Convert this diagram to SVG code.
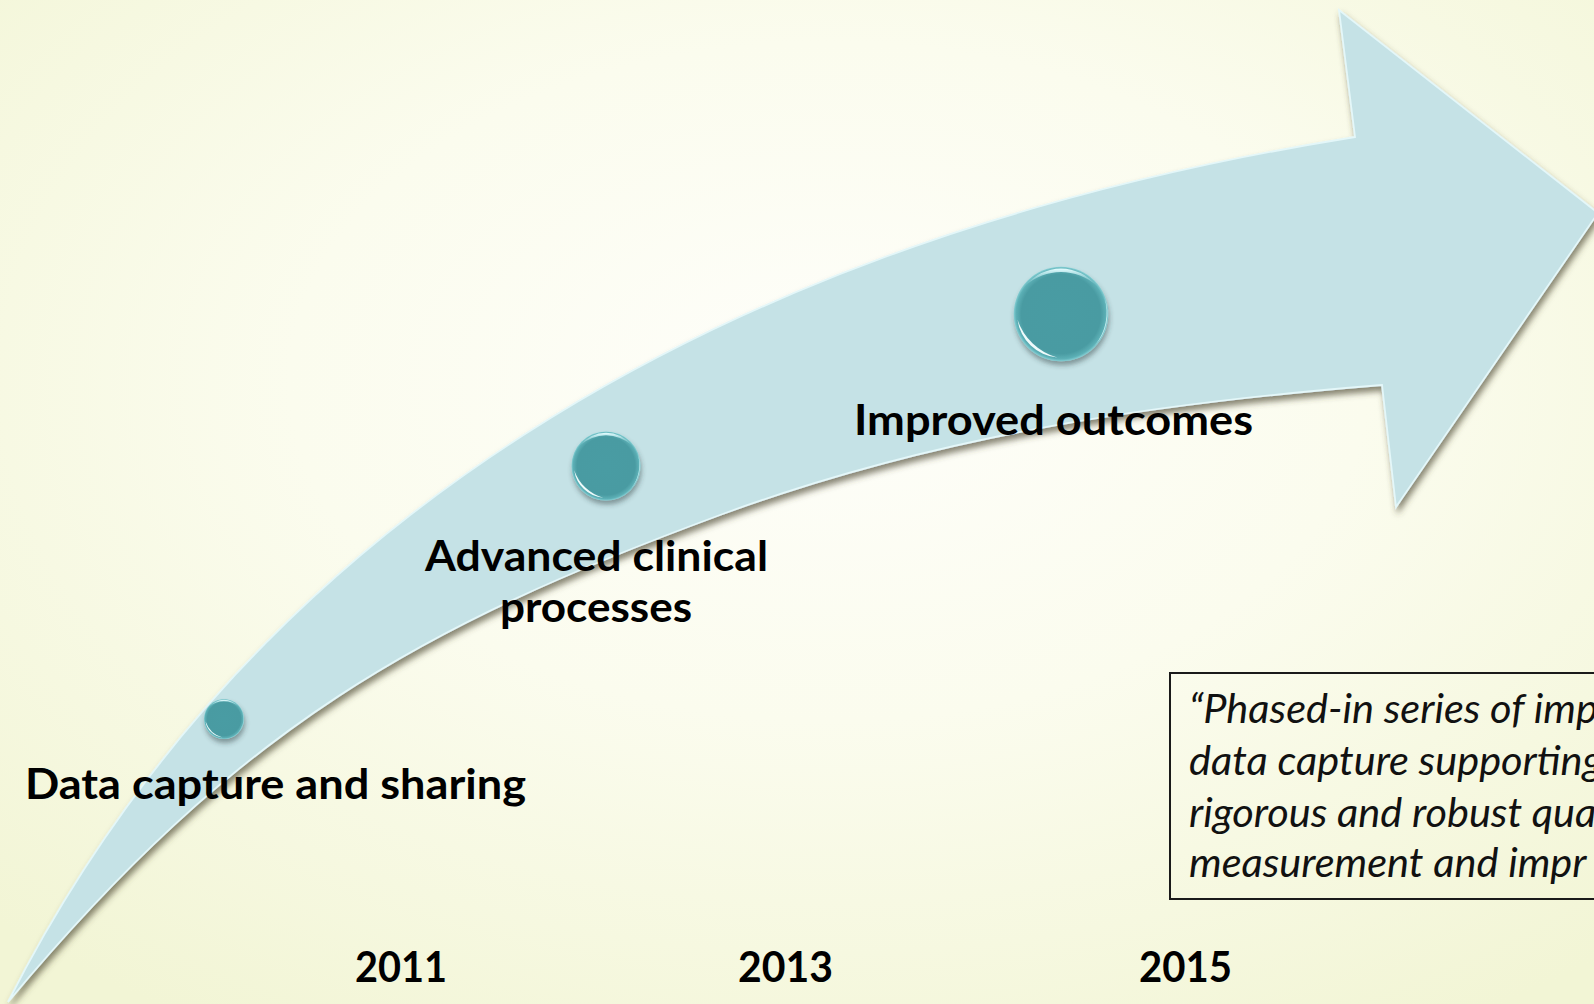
<svg xmlns="http://www.w3.org/2000/svg" width="1594" height="1004" viewBox="0 0 1594 1004">
  <defs>
    <radialGradient id="bg" cx="52%" cy="38%" r="75%">
      <stop offset="0" stop-color="#FEFEFA"/>
      <stop offset="0.45" stop-color="#FBFCEE"/>
      <stop offset="1" stop-color="#F2F5D5"/>
    </radialGradient>
    <filter id="arrowShadow" x="-5%" y="-5%" width="110%" height="115%">
      <feGaussianBlur in="SourceAlpha" stdDeviation="3" result="b"/>
      <feOffset dx="2" dy="5" result="o"/>
      <feFlood flood-color="#4a4630" flood-opacity="0.65"/>
      <feComposite in2="o" operator="in" result="s"/>
      <feMerge><feMergeNode in="s"/><feMergeNode in="SourceGraphic"/></feMerge>
    </filter>
    <filter id="beadShadow" x="-30%" y="-30%" width="160%" height="170%">
      <feGaussianBlur in="SourceAlpha" stdDeviation="2.5" result="b"/>
      <feOffset dx="1" dy="4" result="o"/>
      <feFlood flood-color="#2d3b3c" flood-opacity="0.45"/>
      <feComposite in2="o" operator="in" result="s"/>
      <feMerge><feMergeNode in="s"/><feMergeNode in="SourceGraphic"/></feMerge>
    </filter>
    <radialGradient id="beadFill" cx="50%" cy="50%" r="50%">
      <stop offset="0" stop-color="#4A9CA3"/>
      <stop offset="0.84" stop-color="#4A9BA2"/>
      <stop offset="0.95" stop-color="#5CB0B6"/>
      <stop offset="1" stop-color="#86CFD4"/>
    </radialGradient>
    <linearGradient id="topHi" x1="0" y1="0" x2="0" y2="1">
      <stop offset="0" stop-color="#E6FDFF" stop-opacity="1"/>
      <stop offset="1" stop-color="#A6E3E8" stop-opacity="0.1"/>
    </linearGradient>
    <symbol id="bead" viewBox="-1.1 -1.1 2.2 2.2" overflow="visible">
      <circle cx="0" cy="0" r="1" fill="url(#beadFill)"/>
      <path d="M -0.75,-0.6 A 0.96 0.96 0 0 1 0.75,-0.6 A 1.12 1.12 0 0 0 -0.75,-0.6 Z" fill="url(#topHi)"/>
      <path d="M -0.92,0.12 A 0.93 0.93 0 0 0 -0.08,0.92 A 1.25 1.25 0 0 1 -0.92,0.12 Z" fill="#F8FFFF" opacity="0.95"/>
      <path d="M 0.92,-0.35 A 0.98 0.98 0 0 1 0.72,0.66 A 1.1 1.1 0 0 0 0.92,-0.35 Z" fill="#D6F6F8" opacity="0.85"/>
    </symbol>
    <style>
      .lbl { font-family: Lato, "Open Sans", "Liberation Sans", sans-serif; font-weight: 700; font-size: 42px; fill: #000; }
      .quote { font-family: Lato, "Open Sans", "Liberation Sans", sans-serif; font-style: italic; font-size: 41.5px; fill: #111; }
    </style>
  </defs>

  <rect x="0" y="0" width="1594" height="1004" fill="url(#bg)"/>

  <g id="connectors">
    <path id="arrow" filter="url(#arrowShadow)" fill="#C5E2E6" stroke="#E4F7F9" stroke-width="1.8" stroke-linejoin="miter"
      d="M 8,1002
         C 262,500 755,233 1355,137
         L 1339,10
         L 1598,213
         L 1396,507
         L 1382,385
         C 1162,402.6 940,433.6 720,515
         C 420,626 238,726 8,1002 Z"/>
  </g>

  <g id="node-data-capture">
    <use href="#bead" x="202" y="697" width="44" height="44" filter="url(#beadShadow)"/>
    <text class="lbl" x="25" y="799" textLength="501" lengthAdjust="spacingAndGlyphs">Data capture and sharing</text>
  </g>

  <g id="node-advanced">
    <use href="#bead" x="568" y="428" width="76" height="76" filter="url(#beadShadow)"/>
    <text class="lbl" x="425" y="571" textLength="343" lengthAdjust="spacingAndGlyphs">Advanced clinical</text>
    <text class="lbl" x="500" y="622" textLength="192" lengthAdjust="spacingAndGlyphs">processes</text>
  </g>

  <g id="node-improved">
    <use href="#bead" x="1009" y="262" width="104" height="104" filter="url(#beadShadow)"/>
    <text class="lbl" x="854" y="435" textLength="399" lengthAdjust="spacingAndGlyphs">Improved outcomes</text>
  </g>

  <g id="years">
    <text class="lbl" x="355" y="982" textLength="92" lengthAdjust="spacingAndGlyphs">2011</text>
    <text class="lbl" x="738" y="982" textLength="95" lengthAdjust="spacingAndGlyphs">2013</text>
    <text class="lbl" x="1139" y="982" textLength="93" lengthAdjust="spacingAndGlyphs">2015</text>
  </g>

  <g id="quote-box">
    <rect x="1170" y="673" width="440" height="226" fill="none" stroke="#1a1a1a" stroke-width="2"/>
    <text class="quote" x="1189" y="723">“Phased-in series of imp</text>
    <text class="quote" x="1189" y="775">data capture supporting</text>
    <text class="quote" x="1189" y="827">rigorous and robust qua</text>
    <text class="quote" x="1189" y="877">measurement and impr</text>
  </g>
</svg>
